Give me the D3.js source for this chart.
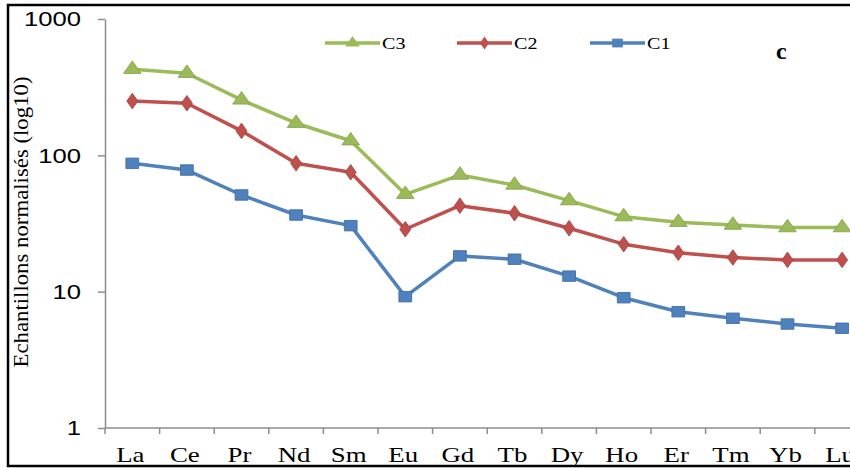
<!DOCTYPE html>
<html>
<head>
<meta charset="utf-8">
<script src="https://cdn.jsdelivr.net/npm/d3@7"></script>
<style>
  body { margin: 0; background: #fff; }
  svg { display: block; font-family: "Liberation Serif", "Times New Roman", serif; }
  .axis path, .axis line { stroke: #8c8c8c; stroke-width: 1.5; }
  .axis text { fill: #000; }
</style>
</head>
<body>
<svg id="chart" width="850" height="468"></svg>
<script>
// Chondrite-normalised REE patterns
const elements = ["La", "Ce", "Pr", "Nd", "Sm", "Eu", "Gd", "Tb", "Dy", "Ho", "Er", "Tm", "Yb", "Lu"];
const c3 = [428, 400, 255, 172, 128, 51.8, 71.7, 60.6, 46.5, 35.5, 32.3, 30.8, 29.5, 29.5];
const c2 = [250, 241, 151, 87.4, 75.1, 28.7, 42.7, 37.6, 29.2, 22.3, 19.3, 17.8, 17.1, 17.1];
const c1 = [87.4, 78.0, 51.2, 36.5, 30.5, 9.19, 18.3, 17.3, 13.0, 9.03, 7.13, 6.38, 5.79, 5.39];
const yTicks = [1, 10, 100, 1000];

const series = [
  { name: "C3", values: c3, color: "#9bbb59", symbol: d3.symbolTriangle, size: 90 },
  { name: "C2", values: c2, color: "#c0504d", symbol: d3.symbolDiamond, size: 70 },
  { name: "C1", values: c1, color: "#4f81bd", symbol: d3.symbolSquare, size: 110 }
];

const svg = d3.select("#chart");
const stretch = 1.22; // the original picture is a bit wider than tall

const plotLeft = 105, plotTop = 19, plotBottom = 428;
const band = 54.6;

const x = d3.scaleBand().domain(elements).range([plotLeft, plotLeft + band * elements.length]);
const y = d3.scaleLog().domain([1, 1000]).range([plotBottom, plotTop]);

// widen glyphs like in the source
const widen = (sel) => sel.each(function () {
  const w = this.getComputedTextLength();
  d3.select(this).attr("textLength", w * stretch).attr("lengthAdjust", "spacingAndGlyphs");
});

// y axis
const yAxis = svg.append("g")
  .attr("class", "axis")
  .attr("transform", `translate(${plotLeft},0)`)
  .call(d3.axisLeft(y).tickValues(yTicks).tickFormat(d3.format("d")).tickSize(7).tickPadding(17).tickSizeOuter(0));
yAxis.selectAll("text").style("font-size", "21px").call(widen);

// x axis line + boundary ticks
const xAxis = svg.append("g").attr("class", "axis");
xAxis.append("line")
  .attr("x1", x.range()[0]).attr("x2", x.range()[1])
  .attr("y1", plotBottom).attr("y2", plotBottom);
xAxis.selectAll(".tick")
  .data(elements)
  .join("line")
  .attr("class", "tick")
  .attr("x1", (d) => x(d)).attr("x2", (d) => x(d))
  .attr("y1", plotBottom).attr("y2", plotBottom + 6);
xAxis.selectAll(".lbl")
  .data(elements)
  .join("text")
  .attr("class", "lbl")
  .attr("x", (d) => x(d) + x.bandwidth() / 2 - 2)
  .attr("y", 462)
  .attr("text-anchor", "middle")
  .style("font-size", "22px")
  .text((d) => d)
  .call(widen);

// lines + markers
const line = d3.line()
  .x((d, i) => x(elements[i]) + x.bandwidth() / 2)
  .y((d) => y(d));

series.forEach((s) => {
  svg.append("path")
    .datum(s.values)
    .attr("fill", "none")
    .attr("stroke", s.color)
    .attr("stroke-width", 3.5)
    .attr("stroke-linejoin", "round")
    .attr("d", line);

  svg.append("g")
    .selectAll("path")
    .data(s.values)
    .join("path")
    .attr("transform", (d, i) =>
      `translate(${x(elements[i]) + x.bandwidth() / 2},${y(d)}) scale(${stretch},1)`)
    .attr("d", d3.symbol(s.symbol, s.size))
    .attr("fill", s.color)
    .attr("stroke", d3.color(s.color).darker(0.4))
    .attr("stroke-width", 0.8);
});

// legend
const legendX = [325, 457, 590];
series.forEach((s, i) => {
  const g = svg.append("g").attr("transform", `translate(${legendX[i]},43)`);
  g.append("line")
    .attr("x1", 0).attr("x2", 55)
    .attr("stroke", s.color)
    .attr("stroke-width", 3.5);
  g.append("path")
    .attr("transform", `translate(27.5,0) scale(${stretch},1)`)
    .attr("d", d3.symbol(s.symbol, s.size * 0.7))
    .attr("fill", s.color);
  g.append("text")
    .attr("x", 57)
    .attr("y", 6)
    .style("font-size", "16.5px")
    .text(s.name)
    .call(widen);
});

// panel letter
svg.append("text")
  .attr("x", 776)
  .attr("y", 59)
  .style("font-size", "24px")
  .style("font-weight", "bold")
  .text("c");

// y label
svg.append("text")
  .attr("transform", "translate(28,222) rotate(-90)")
  .attr("text-anchor", "middle")
  .style("font-size", "20px")
  .attr("textLength", 291)
  .attr("lengthAdjust", "spacingAndGlyphs")
  .text("Echantillons normalisés (log10)");

// frame
svg.append("rect")
  .attr("x", 8).attr("y", 5)
  .attr("width", 900).attr("height", 461)
  .attr("fill", "none")
  .attr("stroke", "#000")
  .attr("stroke-width", 2.5);
</script>
</body>
</html>
